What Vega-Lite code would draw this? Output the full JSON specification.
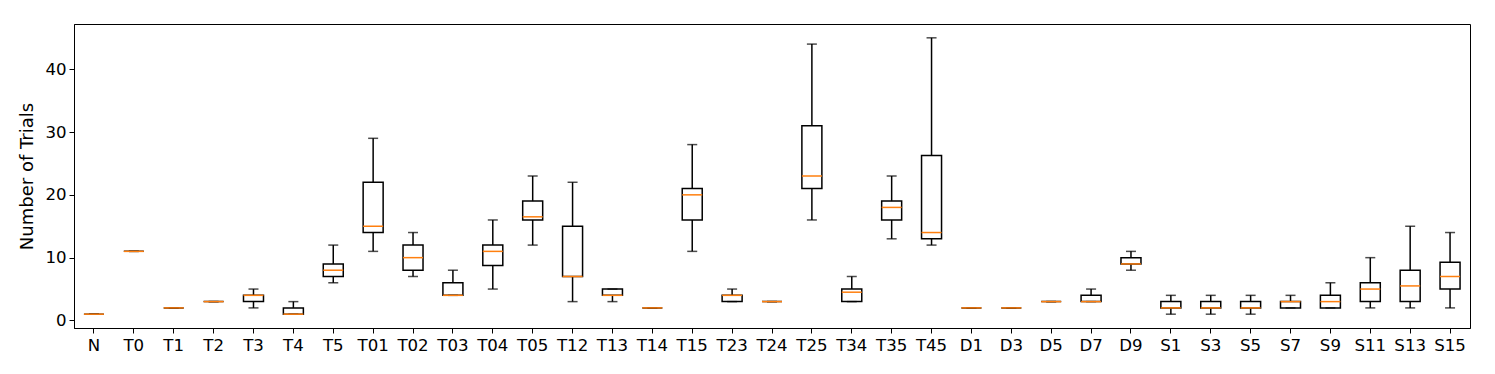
{
  "$schema": "https://vega.github.io/schema/vega-lite/v6.json",
  "width": 1396,
  "height": 304,
  "autosize": {"type": "none"},
  "padding": {"left": 74, "top": 24, "right": 25, "bottom": 46},
  "background": "white",
  "config": {
    "font": "DejaVu Sans",
    "view": {"stroke": "#000", "strokeWidth": 1},
    "axis": {
      "grid": false,
      "domainColor": "#000",
      "tickColor": "#000",
      "tickSize": 5,
      "tickWidth": 1,
      "labelColor": "#000",
      "labelFont": "DejaVu Sans",
      "labelFontSize": 16.6,
      "titleFont": "DejaVu Sans",
      "titleFontSize": 18,
      "titleFontWeight": "normal",
      "titleColor": "#000"
    }
  },
  "data": {
    "values": [
      {"cat": "N", "lo": 1, "q1": 1, "med": 1, "q3": 1, "hi": 1},
      {"cat": "T0", "lo": 11, "q1": 11, "med": 11, "q3": 11, "hi": 11},
      {"cat": "T1", "lo": 2, "q1": 2, "med": 2, "q3": 2, "hi": 2},
      {"cat": "T2", "lo": 3, "q1": 3, "med": 3, "q3": 3, "hi": 3},
      {"cat": "T3", "lo": 2, "q1": 3, "med": 4, "q3": 4, "hi": 5},
      {"cat": "T4", "lo": 1, "q1": 1, "med": 1, "q3": 2, "hi": 3},
      {"cat": "T5", "lo": 6, "q1": 7, "med": 8, "q3": 9, "hi": 12},
      {"cat": "T01", "lo": 11, "q1": 14, "med": 15, "q3": 22, "hi": 29},
      {"cat": "T02", "lo": 7, "q1": 8, "med": 10, "q3": 12, "hi": 14},
      {"cat": "T03", "lo": 4, "q1": 4, "med": 4, "q3": 6, "hi": 8},
      {"cat": "T04", "lo": 5, "q1": 8.75, "med": 11, "q3": 12, "hi": 16},
      {"cat": "T05", "lo": 12, "q1": 16, "med": 16.5, "q3": 19, "hi": 23},
      {"cat": "T12", "lo": 3, "q1": 7, "med": 7, "q3": 15, "hi": 22},
      {"cat": "T13", "lo": 3, "q1": 4, "med": 4, "q3": 5, "hi": 5},
      {"cat": "T14", "lo": 2, "q1": 2, "med": 2, "q3": 2, "hi": 2},
      {"cat": "T15", "lo": 11, "q1": 16, "med": 20, "q3": 21, "hi": 28},
      {"cat": "T23", "lo": 3, "q1": 3, "med": 4, "q3": 4, "hi": 5},
      {"cat": "T24", "lo": 3, "q1": 3, "med": 3, "q3": 3, "hi": 3},
      {"cat": "T25", "lo": 16, "q1": 21, "med": 23, "q3": 31, "hi": 44},
      {"cat": "T34", "lo": 3, "q1": 3, "med": 4.5, "q3": 5, "hi": 7},
      {"cat": "T35", "lo": 13, "q1": 16, "med": 18, "q3": 19, "hi": 23},
      {"cat": "T45", "lo": 12, "q1": 13, "med": 14, "q3": 26.25, "hi": 45},
      {"cat": "D1", "lo": 2, "q1": 2, "med": 2, "q3": 2, "hi": 2},
      {"cat": "D3", "lo": 2, "q1": 2, "med": 2, "q3": 2, "hi": 2},
      {"cat": "D5", "lo": 3, "q1": 3, "med": 3, "q3": 3, "hi": 3},
      {"cat": "D7", "lo": 3, "q1": 3, "med": 3, "q3": 4, "hi": 5},
      {"cat": "D9", "lo": 8, "q1": 9, "med": 9, "q3": 10, "hi": 11},
      {"cat": "S1", "lo": 1, "q1": 2, "med": 2, "q3": 3, "hi": 4},
      {"cat": "S3", "lo": 1, "q1": 2, "med": 2, "q3": 3, "hi": 4},
      {"cat": "S5", "lo": 1, "q1": 2, "med": 2, "q3": 3, "hi": 4},
      {"cat": "S7", "lo": 2, "q1": 2, "med": 3, "q3": 3, "hi": 4},
      {"cat": "S9", "lo": 2, "q1": 2, "med": 3, "q3": 4, "hi": 6},
      {"cat": "S11", "lo": 2, "q1": 3, "med": 5, "q3": 6, "hi": 10},
      {"cat": "S13", "lo": 2, "q1": 3, "med": 5.5, "q3": 8, "hi": 15},
      {"cat": "S15", "lo": 2, "q1": 5, "med": 7, "q3": 9.25, "hi": 14}
    ]
  },
  "encoding": {
    "x": {
      "field": "cat",
      "type": "nominal",
      "sort": null,
      "scale": {"type": "band", "paddingInner": 0, "paddingOuter": 0},
      "axis": {"title": null, "labelAngle": 0, "labelPadding": 4}
    }
  },
  "layer": [
    {
      "mark": {"type": "rule", "color": "#000", "strokeWidth": 1.5},
      "encoding": {
        "y": {
          "field": "lo",
          "type": "quantitative",
          "scale": {"domain": [-1.2, 47.2], "nice": false, "zero": false},
          "axis": {"title": "Number of Trials", "values": [0, 10, 20, 30, 40], "titlePadding": 8, "labelPadding": 3}
        },
        "y2": {"field": "q1"}
      }
    },
    {
      "mark": {"type": "rule", "color": "#000", "strokeWidth": 1.5},
      "encoding": {
        "y": {"field": "q3", "type": "quantitative"},
        "y2": {"field": "hi"}
      }
    },
    {
      "mark": {"type": "tick", "color": "#000", "size": 10, "thickness": 1.5, "orient": "horizontal"},
      "encoding": {"y": {"field": "lo", "type": "quantitative"}}
    },
    {
      "mark": {"type": "tick", "color": "#000", "size": 10, "thickness": 1.5, "orient": "horizontal"},
      "encoding": {"y": {"field": "hi", "type": "quantitative"}}
    },
    {
      "mark": {"type": "bar", "width": 20, "fill": "white", "fillOpacity": 0, "stroke": "#000", "strokeWidth": 1.5},
      "encoding": {
        "y": {"field": "q1", "type": "quantitative"},
        "y2": {"field": "q3"}
      }
    },
    {
      "mark": {"type": "tick", "color": "#ff7f0e", "size": 20, "thickness": 1.5, "orient": "horizontal", "opacity": 1},
      "encoding": {"y": {"field": "med", "type": "quantitative"}}
    }
  ]
}
